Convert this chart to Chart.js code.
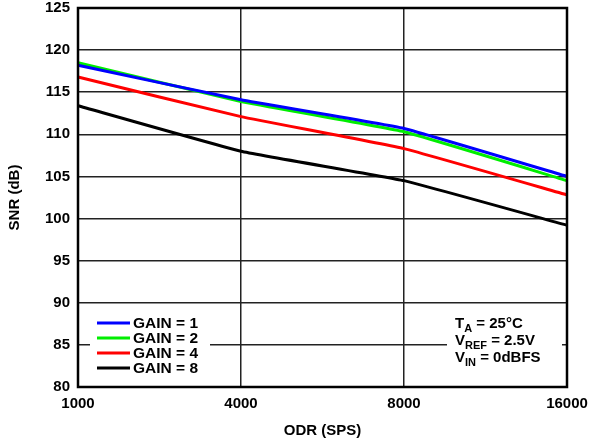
<!DOCTYPE html>
<html><head><meta charset="utf-8">
<script src="https://cdn.jsdelivr.net/npm/chart.js@4/dist/chart.umd.min.js"></script>
<style>html,body{margin:0;padding:0;background:#fff}#wrap{width:589px;height:444px}</style>
</head><body><div id="wrap"><canvas id="c" width="589" height="444"></canvas></div>
<script>
const categories = ['1000', '4000', '8000', '16000'];
const gain1 = [118.2, 114.1, 110.7, 105.0];
const gain2 = [118.5, 113.9, 110.3, 104.5];
const gain4 = [116.8, 112.1, 108.3, 102.8];
const gain8 = [113.4, 108.0, 104.5, 99.2];
const seriesLabels = ['GAIN = 1', 'GAIN = 2', 'GAIN = 4', 'GAIN = 8'];
const seriesColors = ['#0000ff', '#00ee00', '#ff0000', '#000000'];
const yTicks = [80, 85, 90, 95, 100, 105, 110, 115, 120, 125];

const FONT = 'Liberation Sans, Arial, sans-serif';

const overlay = {
  id: 'overlay',
  afterDatasetsDraw(chart) {
    const ctx = chart.ctx, a = chart.chartArea;
    ctx.save();
    // legend box
    ctx.fillStyle = '#fff';
    ctx.fillRect(90, 310, 120, 72);
    const rows = [323, 338, 353, 368];
    ctx.font = 'bold 15.5px ' + FONT;
    ctx.textBaseline = 'middle';
    chart.data.datasets.forEach((ds, i) => {
      ctx.strokeStyle = ds.borderColor;
      ctx.lineWidth = 3;
      ctx.beginPath(); ctx.moveTo(97, rows[i]); ctx.lineTo(130, rows[i]); ctx.stroke();
      ctx.fillStyle = '#000';
      ctx.fillText(ds.label, 133, rows[i] + 1);
    });
    // annotation box
    ctx.fillStyle = '#fff';
    ctx.fillRect(447, 312, 115, 70);
    ctx.fillStyle = '#000';
    const x0 = 455;
    function sub(main, s, rest, y) {
      ctx.font = 'bold 15px ' + FONT;
      ctx.fillText(main, x0, y);
      let w = ctx.measureText(main).width;
      ctx.font = 'bold 11px ' + FONT;
      ctx.fillText(s, x0 + w, y + 5);
      let w2 = ctx.measureText(s).width;
      ctx.font = 'bold 15px ' + FONT;
      ctx.fillText(rest, x0 + w + w2, y);
    }
    sub('T', 'A', ' = 25°C', 324);
    sub('V', 'REF', ' = 2.5V', 341);
    sub('V', 'IN', ' = 0dBFS', 358);
    // frame
    ctx.strokeStyle = '#000';
    ctx.lineWidth = 2.5;
    ctx.strokeRect(a.left, a.top, a.right - a.left, a.bottom - a.top);
    ctx.restore();
  }
};

new Chart(document.getElementById('c'), {
  type: 'line',
  data: {
    labels: categories,
    datasets: [gain1, gain2, gain4, gain8].map((d, i) => ({
      label: seriesLabels[i], data: d, borderColor: seriesColors[i],
      backgroundColor: seriesColors[i], borderWidth: 3, pointRadius: 0, tension: 0.1, fill: false
    }))
  },
  options: {
    responsive: false, animation: false,
    layout: { padding: { top: 0, right: 0, left: 0, bottom: 0 } },
    plugins: { legend: { display: false }, tooltip: { enabled: false } },
    scales: {
      x: {
        type: 'category', offset: false,
        grid: { color: '#222', lineWidth: 1.5, drawTicks: false },
        border: { display: false },
        ticks: { color: '#000', font: { family: FONT, weight: 'bold', size: 15 }, padding: 8, maxRotation: 0 },
        title: { display: true, text: 'ODR (SPS)', color: '#000', font: { family: FONT, weight: 'bold', size: 15 }, padding: { top: 4, bottom: 4 } },
        afterFit(s) { s.height = 57; s.paddingLeft = 0; s.paddingRight = 22; }
      },
      y: {
        min: 80, max: 125,
        afterBuildTicks(s) { s.ticks = yTicks.map(v => ({ value: v })); },
        grid: { color: '#222', lineWidth: 1.5, drawTicks: false },
        border: { display: false },
        ticks: { color: '#000', font: { family: FONT, weight: 'bold', size: 15 }, padding: 8 },
        title: { display: true, text: 'SNR (dB)', color: '#000', font: { family: FONT, weight: 'bold', size: 15 }, padding: { top: 6, bottom: 4 } },
        afterFit(s) { s.width = 78; s.paddingTop = 8; s.paddingBottom = 0; }
      }
    }
  },
  plugins: [overlay]
});
</script></body></html>
